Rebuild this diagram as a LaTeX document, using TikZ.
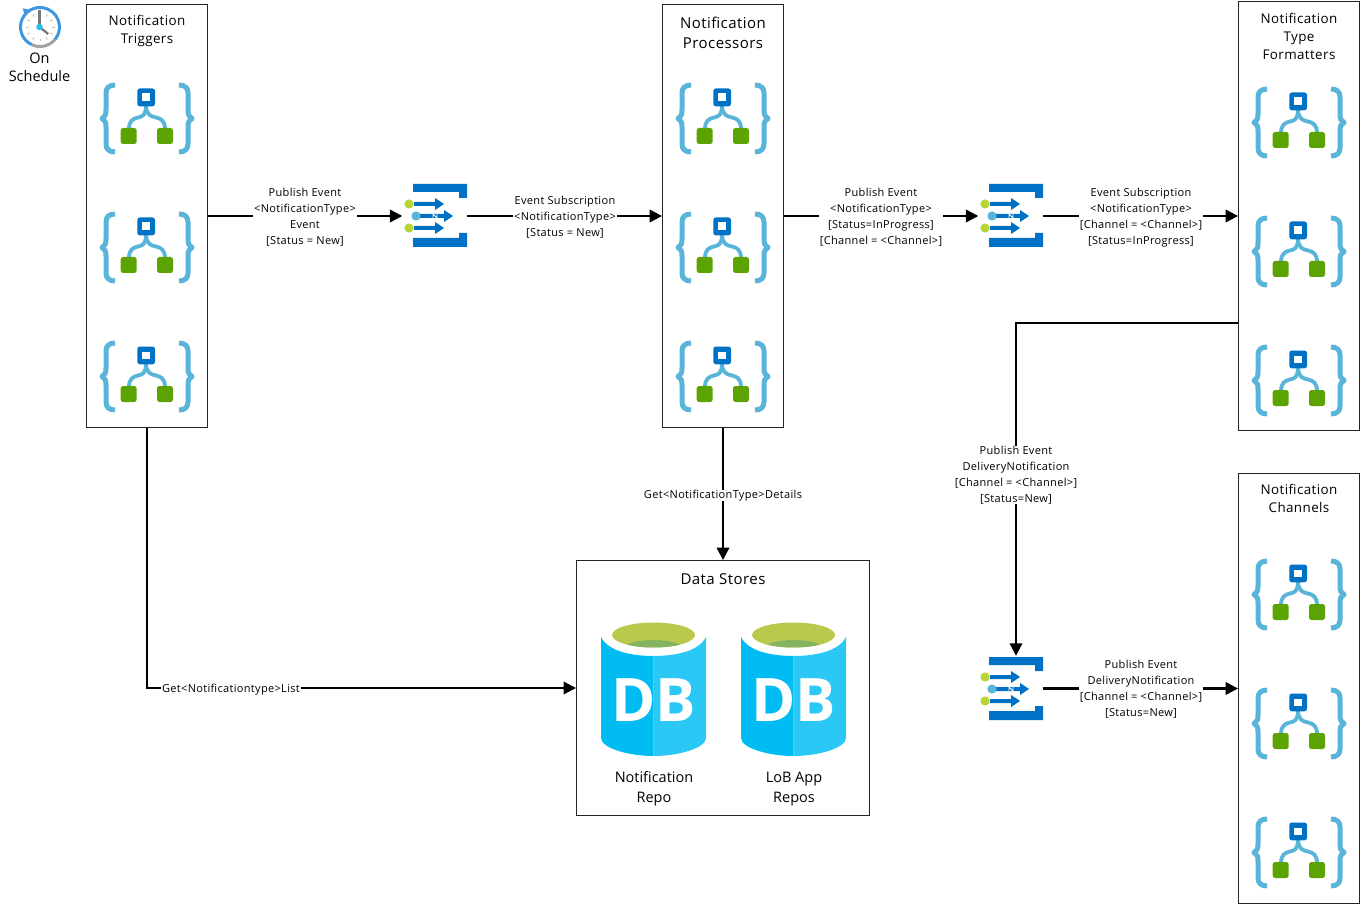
\documentclass[tikz,border=0pt]{standalone}
\usepackage{fontspec}
\setmainfont{Open Sans}
\usetikzlibrary{arrows.meta,calc}
\definecolor{brace}{HTML}{59B4D9}
\definecolor{flowblue}{HTML}{0072C6}
\definecolor{flowgreen}{HTML}{5BA300}
\definecolor{lime}{HTML}{B8D432}
\definecolor{dbleft}{HTML}{00BCF2}
\definecolor{dbright}{HTML}{2BC8F6}
\definecolor{dbtop}{HTML}{BAC94C}
\definecolor{dbdark}{HTML}{84B55E}
\definecolor{clockblue}{HTML}{3E97E0}
\definecolor{clockgray}{HTML}{7A7A7A}
\definecolor{clockcyan}{HTML}{25C2E6}
\tikzset{
  x=1pt,y=-1pt,
  box/.style={draw=black!85,line width=0.9pt,fill=none,inner sep=0pt},
  qbox/.style={draw=none,inner sep=0pt,minimum width=64pt,minimum height=65pt},
  conn/.style={line width=2.2pt,-{Triangle[length=12.5pt,width=12.5pt]}},
  lbl/.style={fill=white,align=center,inner sep=0pt,inner xsep=1pt,font=\fontsize{11}{16}\selectfont\addfontfeature{LetterSpace=3}},
  ttl/.style={align=center,inner sep=0pt,font=\fontsize{13.4}{18}\selectfont\addfontfeature{LetterSpace=3}},
  ttlb/.style={align=center,inner sep=0pt,font=\fontsize{15}{20}\selectfont\addfontfeature{LetterSpace=3}},
  ttlc/.style={align=center,inner sep=0pt,font=\fontsize{14.5}{20}\selectfont},
  logic/.pic={
    \draw[brace,line width=5pt,line join=round]
      (-32,-33) .. controls (-38,-33) and (-41,-30) .. (-41,-25) -- (-41,-8)
      .. controls (-41,-3) and (-42,-1) .. (-45,0.5)
      .. controls (-42,2) and (-41,4) .. (-41,9) -- (-41,26)
      .. controls (-41,31) and (-38,34) .. (-32,34);
    \draw[brace,line width=5pt,line join=round]
      (32,-33) .. controls (38,-33) and (41,-30) .. (41,-25) -- (41,-8)
      .. controls (41,-3) and (42,-1) .. (45,0.5)
      .. controls (42,2) and (41,4) .. (41,9) -- (41,26)
      .. controls (41,31) and (38,34) .. (32,34);
    \draw[brace,line width=3.8pt]
      (-18,11) .. controls (-18,3) and (-14,0.5) .. (-9,-0.5)
      .. controls (-4,-1.5) and (-1,-3) .. (-1,-13);
    \draw[brace,line width=3.8pt]
      (18,11) .. controls (18,3) and (14,0.5) .. (9,-0.5)
      .. controls (4,-1.5) and (-1,-3) .. (-1,-13);
    \fill[flowblue,rounded corners=2.5pt] (-9.7,-29.5) rectangle (8,-11.7);
    \fill[white] (-4.7,-24.5) rectangle (3,-16.7);
    \fill[flowgreen,rounded corners=2.5pt] (-26.3,10) rectangle (-10.3,26);
    \fill[flowgreen,rounded corners=2.5pt] (10,10) rectangle (26,26);
  },
  queue/.pic={
    \fill[flowblue] (-27,-32) -- (27,-32) -- (27,-18) -- (19,-18) -- (19,-24) -- (-27,-24) -- cycle;
    \fill[flowblue] (-27,31) -- (27,31) -- (27,17) -- (19,17) -- (19,22) -- (-27,22) -- cycle;
    \foreach \yy in {-12,12}{
      \fill[flowblue] (-26,\yy-2) -- (-5,\yy-2) -- (-5,\yy-6) -- (4,\yy) -- (-5,\yy+6) -- (-5,\yy+2) -- (-26,\yy+2) -- cycle;
      \fill[lime] (-31,\yy) circle (4.6);
    }
    \fill[flowblue] (-24,-2) -- (4,-2) -- (4,-6) -- (13,0) -- (4,6) -- (4,2) -- (-24,2) -- cycle;
    \fill[brace] (-24,0) circle (4.6);
    \draw[white,line width=0.8pt] (-7,2) -- (-7,-2) -- (-3,2) -- (-3,-2);
  },
  dbcyl/.pic={
    \fill[dbleft] (-52.5,-57) .. controls (-45,-42) and (-20,-38) .. (0,-38) -- (0,62)
      .. controls (-25,62) and (-52.5,54) .. (-52.5,44) -- cycle;
    \fill[dbright] (52.5,-57) .. controls (45,-42) and (20,-38) .. (0,-38) -- (0,62)
      .. controls (25,62) and (52.5,54) .. (52.5,44) -- cycle;
    \fill[dbtop] (0,-59) ellipse [x radius=41.5,y radius=12.5];
    \begin{scope}
      \clip (0,-59) ellipse [x radius=41.5,y radius=12.5];
      \fill[dbdark] (0,-42) ellipse [x radius=34,y radius=12];
    \end{scope}
    \node[text=white,inner sep=0pt,font=\fontsize{60}{60}\selectfont\bfseries] at (0,6) {\addfontfeature{LetterSpace=-2}DB};
  },
}
\begin{document}
\begin{tikzpicture}
\useasboundingbox (0,0) rectangle (1361,904);
\fill[white] (0,0) rectangle (1361,904);

% boxes
\node[box,minimum width=121pt,minimum height=423pt] (trig) at (147,216) {};
\node[box,minimum width=121pt,minimum height=423pt] (proc) at (723,216) {};
\node[box,minimum width=121pt,minimum height=429pt] (fmt) at (1299,216) {};
\node[box,minimum width=121pt,minimum height=430pt] (chan) at (1299,688) {};
\node[box,minimum width=293pt,minimum height=255pt] (store) at (723,688) {};

% queues
\node[qbox] (q1) at (434.5,216) {};
\node[qbox] (q2) at (1010.5,216) {};
\node[qbox] (q3) at (1010.5,688.5) {};
\pic at (440,216) {queue};
\pic at (1016,216) {queue};
\pic at (1016,689) {queue};

% logic icons
\foreach \yy in {118,247,376}{
  \pic at (147,\yy) {logic};
  \pic at (723,\yy) {logic};
}
\foreach \yy in {122,251,380}{\pic at (1299,\yy) {logic};}
\foreach \yy in {594,723,852}{\pic at (1299,\yy) {logic};}

% connectors
\draw[conn] (trig.east) -- (q1.west);
\draw[conn] (q1.east) -- (proc.west);
\draw[conn] (proc.east) -- (q2.west);
\draw[conn] (q2.east) -- (fmt.west);
\draw[conn] (q3.east) -- (q3.east -| chan.west);
\draw[conn] (proc.south) -- (store.north);
\draw[conn] (trig.south) |- (store.west);
\draw[conn] ([yshift=-107pt]fmt.west) -| ([xshift=5.5pt]q3.north);

% connector labels
\node[lbl] (l1) at (305,217.2) {Publish Event\\{<NotificationType>}\\Event\\{[Status = New]}};
\node[lbl] (l2) at (565,217.2) {Event Subscription\\{<NotificationType>}\\{[Status = New]}};
\node[lbl] (l3) at (881,217.2) {Publish Event\\{<NotificationType>}\\{[Status=InProgress]}\\{[Channel = <Channel>]}};
\node[lbl] (l4) at (1141,217.7) {Event Subscription\\{<NotificationType>}\\{[Channel = <Channel>]}\\{[Status=InProgress]}};
\node[lbl] (l5) at (1016,475.2) {Publish Event\\DeliveryNotification\\{[Channel = <Channel>]}\\{[Status=New]}};
\node[lbl] (l6) at (1141,689.2) {Publish Event\\DeliveryNotification\\{[Channel = <Channel>]}\\{[Status=New]}};
\node[lbl] (l7) at (723,495.7) {Get<NotificationType>Details};
\node[lbl] (l8) at (231,689.7) {Get<Notificationtype>List};

% titles
\node[ttl] (t1) at (147,31) {Notification\\Triggers};
\node[ttlb] (t2) at (723,33) {Notification\\Processors};
\node[ttl] (t3) at (1299,36.5) {Notification\\Type\\Formatters};
\node[ttl] (t4) at (1299,498.3) {Notification\\Channels};
\node[ttlb] (t5) at (723,578.7) {Data Stores};

% databases
\pic at (653.5,694) {dbcyl};
\pic at (793.5,694) {dbcyl};
\node[ttlc] (d1) at (654,789) {Notification\\Repo};
\node[ttlc] (d2) at (794,789) {LoB App\\Repos};

% clock
\draw[clockblue,line width=3pt] (40,27) ++(115:19.5) arc[start angle=115,delta angle=285,radius=19.5];
\draw[clockgray!70,line width=3pt] (40,27) ++(115:19.5) arc[start angle=115,delta angle=-75,radius=19.5];
\fill[clockblue] (22.7,8.3) -- (30.5,10) -- (25,16) -- cycle;
\foreach \a in {0,30,...,330}{
  \draw[clockgray!55,line width=0.8pt] (40,27) ++(\a:14.5) -- ++(\a:-2.5);
}
\draw[clockgray,line width=2.3pt] (39.5,27) -- (39.5,10.5);
\draw[clockgray,line width=2.3pt] (39.5,27) -- (48.3,34);
\fill[clockcyan] (39.5,27) circle (3.3);
\node[ttlc,font=\fontsize{14.5}{18}\selectfont] (c1) at (39.5,67.8) {On\\Schedule};
\end{tikzpicture}
\end{document}
